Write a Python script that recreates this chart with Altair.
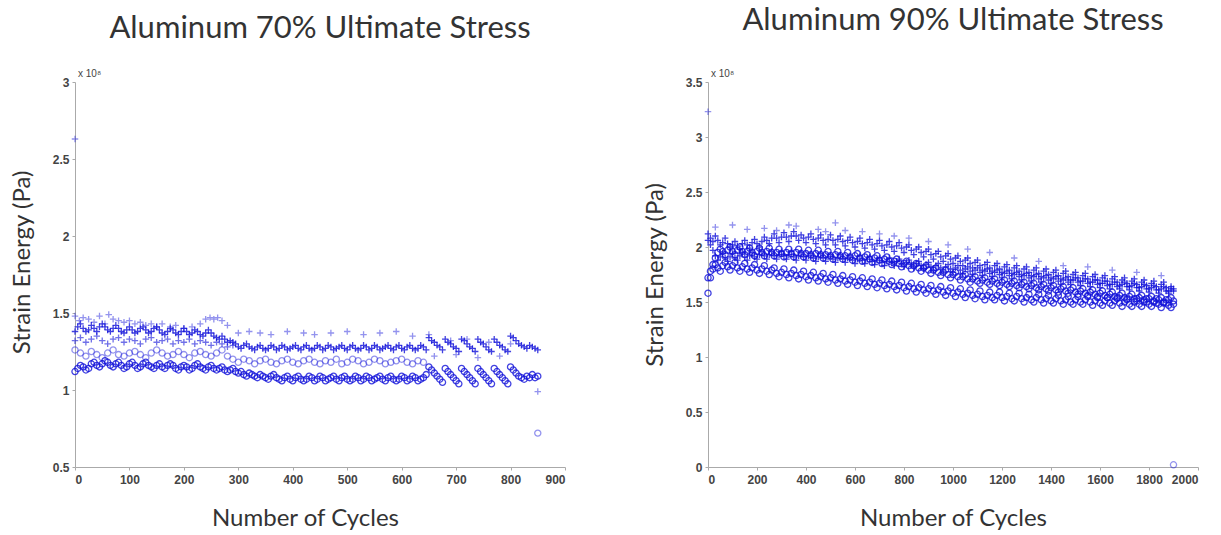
import altair as alt
import pandas as pd

# ---------------- Left chart: Aluminum 70% ----------------
L_plus_dense_x = list(range(0, 855, 5))
L_plus_dense_y = [
    1.38, 1.41, 1.43, 1.40, 1.38, 1.39, 1.42, 1.40, 1.38, 1.41,
    1.43, 1.41, 1.39, 1.38, 1.40, 1.42, 1.40, 1.38, 1.37, 1.39,
    1.41, 1.39, 1.37, 1.38, 1.40, 1.41, 1.39, 1.37, 1.38, 1.40,
    1.41, 1.39, 1.37, 1.36, 1.38, 1.40, 1.39, 1.37, 1.36, 1.38,
    1.40, 1.38, 1.36, 1.37, 1.39, 1.38, 1.36, 1.35, 1.37, 1.39,
    1.37, 1.35, 1.34, 1.33, 1.35, 1.33, 1.31, 1.32, 1.31, 1.30,
    1.28, 1.27, 1.29, 1.30, 1.28, 1.27, 1.26, 1.28, 1.29, 1.27,
    1.26, 1.27, 1.29, 1.28, 1.26, 1.27, 1.29, 1.28, 1.26, 1.27,
    1.28, 1.29, 1.27, 1.26, 1.28, 1.29, 1.27, 1.26, 1.27, 1.29,
    1.28, 1.26, 1.27, 1.29, 1.28, 1.26, 1.27, 1.28, 1.29, 1.27,
    1.26, 1.28, 1.29, 1.27, 1.26, 1.27, 1.29, 1.28, 1.26, 1.27,
    1.29, 1.28, 1.26, 1.27, 1.28, 1.29, 1.27, 1.26, 1.28, 1.29,
    1.27, 1.26, 1.28, 1.29, 1.27, 1.26, 1.27, 1.29, 1.28, 1.26,
    1.34, 1.32, 1.31, 1.29, 1.28, 1.26, 1.33, 1.31, 1.30, 1.28,
    1.27, 1.25, 1.33, 1.32, 1.30, 1.28, 1.27, 1.25, 1.33, 1.31,
    1.30, 1.28, 1.26, 1.25, 1.33, 1.31, 1.29, 1.28, 1.26, 1.25,
    1.35, 1.34, 1.32, 1.30, 1.29, 1.28, 1.27, 1.29, 1.28, 1.27,
    1.26,
]
L_plus_mid_x = list(range(0, 300, 10))
L_plus_mid_y = [1.32, 1.34, 1.31, 1.33, 1.35, 1.32, 1.30, 1.33, 1.34, 1.31,
                1.33, 1.32, 1.30, 1.33, 1.34, 1.31, 1.32, 1.33, 1.30, 1.32,
                1.31, 1.33, 1.30, 1.32, 1.31, 1.29, 1.31, 1.30, 1.28, 1.29]
L_plus_sparse_x = [0, 0, 8, 15, 25, 35, 45, 55, 62, 70, 80, 90, 100, 110, 120, 130, 140, 150, 160,
                   175, 185, 200, 215, 230, 240, 248, 255, 262, 270, 280, 300, 320, 340, 360,
                   390, 420, 440, 470, 500, 530, 560, 590, 620, 650, 690, 720, 760, 800,
                   660, 700, 740, 780, 850]
L_plus_sparse_y = [2.63, 1.48, 1.45, 1.47, 1.46, 1.44, 1.48, 1.43, 1.49, 1.46, 1.45, 1.44, 1.45, 1.43,
                   1.44, 1.42, 1.43, 1.41, 1.43, 1.41, 1.42, 1.40, 1.41, 1.43, 1.46, 1.47, 1.46,
                   1.47, 1.45, 1.42, 1.37, 1.38, 1.37, 1.36, 1.38, 1.37, 1.36, 1.37, 1.38, 1.36,
                   1.37, 1.38, 1.35, 1.36, 1.32, 1.33, 1.31, 1.30,
                   1.22, 1.23, 1.21, 1.22, 0.99]
L_o_upper_x = list(range(0, 650, 10))
L_o_upper_y = [
    1.26, 1.24, 1.22, 1.25, 1.23, 1.21, 1.24, 1.26, 1.23, 1.22,
    1.24, 1.25, 1.23, 1.21, 1.24, 1.26, 1.24, 1.22, 1.23, 1.25,
    1.23, 1.21, 1.24, 1.25, 1.23, 1.22, 1.24, 1.26, 1.22, 1.20,
    1.18, 1.20, 1.19, 1.17, 1.19, 1.20, 1.18, 1.17, 1.19, 1.20,
    1.18, 1.17, 1.19, 1.20, 1.18, 1.17, 1.19, 1.18, 1.20, 1.17,
    1.18, 1.20, 1.19, 1.17, 1.18, 1.20, 1.19, 1.17, 1.18, 1.19,
    1.20, 1.18, 1.17, 1.19, 1.18,
]
L_o_dense_x = list(range(0, 855, 5))
L_o_dense_y = [
    1.12, 1.14, 1.16, 1.15, 1.13, 1.14, 1.17, 1.18, 1.16, 1.15,
    1.17, 1.19, 1.18, 1.16, 1.15, 1.17, 1.18, 1.16, 1.14, 1.15,
    1.17, 1.18, 1.16, 1.14, 1.15, 1.17, 1.18, 1.16, 1.15, 1.14,
    1.16, 1.17, 1.15, 1.14, 1.16, 1.17, 1.16, 1.14, 1.13, 1.15,
    1.16, 1.15, 1.13, 1.14, 1.16, 1.17, 1.15, 1.14, 1.13, 1.15,
    1.16, 1.14, 1.13, 1.14, 1.15, 1.13, 1.12, 1.13, 1.14, 1.12,
    1.11, 1.12, 1.10, 1.09, 1.11, 1.10, 1.09, 1.08, 1.10, 1.09,
    1.08, 1.07, 1.09, 1.10, 1.08, 1.07, 1.06, 1.08, 1.09, 1.07,
    1.06, 1.08, 1.09, 1.07, 1.06, 1.07, 1.09, 1.08, 1.06, 1.07,
    1.09, 1.08, 1.06, 1.07, 1.08, 1.09, 1.07, 1.06, 1.08, 1.09,
    1.07, 1.06, 1.07, 1.09, 1.08, 1.06, 1.07, 1.09, 1.08, 1.06,
    1.07, 1.08, 1.09, 1.07, 1.06, 1.08, 1.09, 1.07, 1.06, 1.07,
    1.09, 1.08, 1.06, 1.07, 1.09, 1.08, 1.06, 1.07, 1.08, 1.10,
    1.15, 1.13, 1.11, 1.09, 1.07, 1.05, 1.14, 1.12, 1.10, 1.08,
    1.06, 1.04, 1.14, 1.12, 1.10, 1.08, 1.06, 1.04, 1.14, 1.12,
    1.10, 1.08, 1.06, 1.04, 1.14, 1.12, 1.10, 1.08, 1.06, 1.04,
    1.15, 1.13, 1.11, 1.09, 1.08, 1.07, 1.09, 1.08, 1.10, 1.08,
    1.09,
]
L_o_extra_x = [850]
L_o_extra_y = [0.72]

# ---------------- Right chart: Aluminum 90% ----------------
R_plus_upper_x = list(range(0, 1910, 10))
R_plus_upper_y = [
    2.12, 2.08, 2.05, 2.10, 2.06, 2.02, 2.04, 2.08, 2.03, 2.00,
    2.02, 2.05, 2.01, 1.98, 2.03, 2.06, 2.02, 1.99, 2.04, 2.07,
    2.03, 2.00, 2.05, 2.09, 2.06, 2.03, 2.08, 2.12, 2.08, 2.04,
    2.09, 2.13, 2.09, 2.05, 2.10, 2.14, 2.10, 2.06, 2.11, 2.08,
    2.04, 2.09, 2.12, 2.07, 2.03, 2.08, 2.11, 2.06, 2.02, 2.07,
    2.11, 2.06, 2.02, 2.07, 2.10, 2.05, 2.01, 2.06, 2.09, 2.04,
    2.00, 2.05, 2.08, 2.03, 1.99, 2.04, 2.07, 2.02, 1.98, 2.03,
    2.06, 2.01, 1.97, 2.02, 2.05, 2.00, 1.96, 2.01, 2.04, 1.99,
    1.95, 2.00, 2.02, 1.97, 1.93, 1.98, 2.00, 1.95, 1.91, 1.96,
    1.98, 1.93, 1.89, 1.94, 1.96, 1.91, 1.87, 1.92, 1.94, 1.89,
    1.85, 1.90, 1.92, 1.87, 1.83, 1.88, 1.90, 1.85, 1.81, 1.86,
    1.88, 1.83, 1.79, 1.84, 1.86, 1.81, 1.78, 1.83, 1.85, 1.80,
    1.77, 1.82, 1.84, 1.79, 1.76, 1.81, 1.83, 1.78, 1.75, 1.80,
    1.82, 1.77, 1.74, 1.79, 1.81, 1.76, 1.73, 1.78, 1.80, 1.75,
    1.72, 1.77, 1.79, 1.74, 1.71, 1.76, 1.78, 1.73, 1.70, 1.75,
    1.77, 1.72, 1.69, 1.74, 1.76, 1.71, 1.68, 1.73, 1.75, 1.70,
    1.67, 1.72, 1.74, 1.69, 1.66, 1.71, 1.73, 1.68, 1.65, 1.70,
    1.72, 1.67, 1.64, 1.69, 1.71, 1.66, 1.63, 1.68, 1.70, 1.65,
    1.62, 1.67, 1.69, 1.64, 1.61, 1.66, 1.68, 1.63, 1.60, 1.64,
    1.62,
]
R_o_lower_x = list(range(0, 1910, 10))
R_o_lower_y = [
    1.58, 1.72, 1.80, 1.84, 1.81, 1.78, 1.83, 1.86, 1.82, 1.79,
    1.83, 1.86, 1.81, 1.78, 1.82, 1.85, 1.80, 1.77, 1.81, 1.84,
    1.79, 1.76, 1.80, 1.83, 1.78, 1.75, 1.79, 1.81, 1.76, 1.73,
    1.77, 1.80, 1.75, 1.72, 1.76, 1.79, 1.74, 1.71, 1.75, 1.78,
    1.73, 1.70, 1.74, 1.77, 1.72, 1.69, 1.73, 1.76, 1.71, 1.68,
    1.72, 1.75, 1.70, 1.67, 1.71, 1.74, 1.69, 1.66, 1.70, 1.73,
    1.68, 1.65, 1.69, 1.72, 1.67, 1.64, 1.68, 1.71, 1.66, 1.63,
    1.67, 1.70, 1.65, 1.62, 1.66, 1.69, 1.64, 1.61, 1.65, 1.68,
    1.63, 1.60, 1.64, 1.67, 1.62, 1.59, 1.63, 1.66, 1.61, 1.58,
    1.62, 1.65, 1.60, 1.57, 1.61, 1.64, 1.59, 1.56, 1.60, 1.63,
    1.58, 1.55, 1.59, 1.62, 1.57, 1.54, 1.58, 1.61, 1.56, 1.53,
    1.57, 1.60, 1.55, 1.52, 1.56, 1.59, 1.54, 1.52, 1.56, 1.59,
    1.54, 1.51, 1.55, 1.58, 1.53, 1.51, 1.55, 1.58, 1.53, 1.50,
    1.54, 1.57, 1.52, 1.50, 1.54, 1.57, 1.52, 1.49, 1.53, 1.56,
    1.51, 1.49, 1.53, 1.56, 1.51, 1.48, 1.52, 1.55, 1.50, 1.48,
    1.52, 1.55, 1.50, 1.48, 1.52, 1.55, 1.50, 1.47, 1.51, 1.54,
    1.49, 1.47, 1.51, 1.54, 1.49, 1.47, 1.51, 1.54, 1.49, 1.46,
    1.50, 1.53, 1.48, 1.46, 1.50, 1.53, 1.48, 1.46, 1.50, 1.53,
    1.48, 1.46, 1.50, 1.53, 1.48, 1.45, 1.49, 1.52, 1.47, 1.45,
    1.48,
]
R_plus_mid_x = list(range(0, 1910, 10))
R_plus_mid_y = [
    2.06, 2.02, 1.97, 1.92, 1.88, 1.91, 1.94, 1.90, 1.87, 1.91,
    1.94, 1.90, 1.88, 1.92, 1.95, 1.91, 1.88, 1.92, 1.95, 1.91,
    1.89, 1.93, 1.96, 1.92, 1.89, 1.93, 1.96, 1.92, 1.89, 1.93,
    1.96, 1.92, 1.89, 1.93, 1.96, 1.91, 1.88, 1.92, 1.95, 1.91,
    1.88, 1.92, 1.94, 1.90, 1.87, 1.91, 1.94, 1.90, 1.87, 1.91,
    1.93, 1.89, 1.86, 1.90, 1.93, 1.89, 1.86, 1.90, 1.92, 1.88,
    1.85, 1.89, 1.92, 1.88, 1.85, 1.89, 1.91, 1.87, 1.84, 1.88,
    1.90, 1.86, 1.83, 1.87, 1.90, 1.86, 1.83, 1.87, 1.89, 1.85,
    1.82, 1.86, 1.88, 1.84, 1.81, 1.85, 1.87, 1.83, 1.80, 1.84,
    1.86, 1.82, 1.79, 1.83, 1.85, 1.81, 1.78, 1.82, 1.84, 1.80,
    1.77, 1.81, 1.83, 1.79, 1.76, 1.80, 1.82, 1.78, 1.75, 1.79,
    1.81, 1.77, 1.74, 1.78, 1.80, 1.76, 1.73, 1.77, 1.79, 1.75,
    1.72, 1.76, 1.78, 1.74, 1.71, 1.75, 1.77, 1.73, 1.70, 1.74,
    1.76, 1.72, 1.69, 1.73, 1.75, 1.71, 1.68, 1.72, 1.74, 1.70,
    1.67, 1.71, 1.73, 1.69, 1.66, 1.70, 1.72, 1.68, 1.66, 1.70,
    1.72, 1.68, 1.65, 1.69, 1.71, 1.67, 1.64, 1.68, 1.70, 1.66,
    1.63, 1.67, 1.69, 1.65, 1.62, 1.66, 1.68, 1.64, 1.62, 1.66,
    1.68, 1.64, 1.61, 1.65, 1.67, 1.63, 1.60, 1.64, 1.66, 1.62,
    1.59, 1.63, 1.65, 1.61, 1.58, 1.62, 1.64, 1.60, 1.58, 1.62,
    1.60,
]
R_o_mid_x = list(range(0, 1910, 10))
R_o_mid_y = [
    1.72, 1.78, 1.84, 1.90, 1.95, 1.98, 1.96, 1.93, 1.97, 2.00,
    1.96, 1.93, 1.97, 2.00, 1.96, 1.93, 1.96, 1.99, 1.95, 1.92,
    1.96, 1.99, 1.95, 1.92, 1.96, 1.99, 1.95, 1.92, 1.95, 1.98,
    1.94, 1.91, 1.95, 1.98, 1.94, 1.91, 1.95, 1.98, 1.94, 1.91,
    1.94, 1.97, 1.93, 1.90, 1.94, 1.97, 1.93, 1.90, 1.93, 1.96,
    1.92, 1.89, 1.93, 1.96, 1.92, 1.89, 1.92, 1.95, 1.91, 1.88,
    1.92, 1.94, 1.90, 1.87, 1.91, 1.93, 1.89, 1.86, 1.90, 1.92,
    1.88, 1.85, 1.89, 1.91, 1.87, 1.84, 1.87, 1.89, 1.85, 1.82,
    1.85, 1.87, 1.83, 1.80, 1.83, 1.85, 1.81, 1.78, 1.81, 1.83,
    1.79, 1.76, 1.79, 1.81, 1.77, 1.74, 1.77, 1.79, 1.75, 1.72,
    1.75, 1.77, 1.73, 1.70, 1.73, 1.75, 1.71, 1.68, 1.71, 1.73,
    1.69, 1.67, 1.70, 1.72, 1.68, 1.66, 1.69, 1.71, 1.67, 1.65,
    1.68, 1.70, 1.66, 1.64, 1.67, 1.69, 1.65, 1.63, 1.66, 1.68,
    1.64, 1.62, 1.65, 1.67, 1.63, 1.61, 1.64, 1.66, 1.62, 1.60,
    1.63, 1.65, 1.61, 1.59, 1.62, 1.64, 1.60, 1.58, 1.61, 1.63,
    1.59, 1.57, 1.60, 1.62, 1.58, 1.56, 1.59, 1.61, 1.57, 1.55,
    1.58, 1.60, 1.56, 1.54, 1.57, 1.59, 1.55, 1.53, 1.56, 1.58,
    1.54, 1.52, 1.55, 1.57, 1.53, 1.51, 1.54, 1.56, 1.52, 1.50,
    1.53, 1.55, 1.51, 1.49, 1.52, 1.54, 1.50, 1.49, 1.52, 1.54,
    1.51,
]
R_plus_sparse_x = [0, 30, 100, 160, 230, 280, 330, 360, 450, 480, 520, 560, 630, 700, 760, 820,
                   900, 980, 1060, 1150, 1250, 1350, 1450, 1550, 1650, 1750, 1850]
R_plus_sparse_y = [3.23, 2.18, 2.20, 2.16, 2.17, 2.15, 2.20, 2.19, 2.16, 2.14, 2.22, 2.15, 2.14,
                   2.12, 2.10, 2.08, 2.05, 2.02, 1.98, 1.95, 1.90, 1.87, 1.83, 1.82, 1.79, 1.77, 1.74]
R_o_extra_x = [1900]
R_o_extra_y = [0.02]

LEFT_X_TICKS = [0, 100, 200, 300, 400, 500, 600, 700, 800, 900]
LEFT_Y_TICKS = [0.5, 1, 1.5, 2, 2.5, 3]
RIGHT_X_TICKS = [0, 200, 400, 600, 800, 1000, 1200, 1400, 1600, 1800, 2000]
RIGHT_Y_TICKS = [0, 0.5, 1, 1.5, 2, 2.5, 3, 3.5]

PLUS = "M-1,0L1,0M0,-1L0,1"
LIGHT = 0.45
DARK = 0.8


def frame(groups):
    rows = []
    for xs, ys, m, w in groups:
        for a, b in zip(xs, ys):
            rows.append({"x": a, "y": b, "m": m, "w": w})
    return pd.DataFrame(rows)


left_df = frame([
    (L_plus_sparse_x, L_plus_sparse_y, "plus", LIGHT),
    (L_plus_mid_x, L_plus_mid_y, "plus", 0.6),
    (L_o_upper_x, L_o_upper_y, "o", LIGHT),
    (L_o_dense_x, L_o_dense_y, "o", DARK),
    (L_o_extra_x, L_o_extra_y, "o", LIGHT),
    (L_plus_dense_x, L_plus_dense_y, "plus", DARK),
])
right_df = frame([
    (R_plus_sparse_x, R_plus_sparse_y, "plus", LIGHT),
    (R_o_lower_x, R_o_lower_y, "o", DARK),
    (R_o_mid_x, R_o_mid_y, "o", DARK),
    (R_o_extra_x, R_o_extra_y, "o", LIGHT),
    (R_plus_mid_x, R_plus_mid_y, "plus", DARK),
    (R_plus_upper_x, R_plus_upper_y, "plus", DARK),
])


def panel(df, xdom, xticks, ydom, yticks, title, toffset, xtitle_x=None, ytitle_y=None):
    xaxis_kw = dict(values=xticks, title="Number of Cycles", format="d")
    yaxis_kw = dict(values=yticks, title="Strain Energy (Pa)", format="~g")
    if xtitle_x is not None:
        xaxis_kw["titleX"] = xtitle_x
    if ytitle_y is not None:
        yaxis_kw["titleY"] = ytitle_y
    pts = alt.Chart(df).mark_point(filled=False, strokeWidth=1.3, color="#1212da").encode(
        x=alt.X("x:Q", scale=alt.Scale(domain=xdom, nice=False, zero=False), axis=alt.Axis(**xaxis_kw)),
        y=alt.Y("y:Q", scale=alt.Scale(domain=ydom, nice=False, zero=False), axis=alt.Axis(**yaxis_kw)),
        shape=alt.Shape("m:N", scale=alt.Scale(domain=["plus", "o"], range=[PLUS, "circle"]), legend=None),
        size=alt.Size("m:N", scale=alt.Scale(domain=["plus", "o"], range=[42, 38]), legend=None),
        opacity=alt.Opacity("w:Q", scale=None, legend=None),
    )
    exp = alt.Chart(pd.DataFrame({"t": ["x 10\u2078"]})).mark_text(
        align="left", baseline="bottom", fontSize=10, font="Liberation Sans", color="#444"
    ).encode(x=alt.value(3), y=alt.value(-3), text="t:N")
    return alt.layer(pts, exp).properties(
        width=490, height=385,
        title=alt.TitleParams(title, fontSize=31, font="Lato", fontWeight="normal",
                              color="#333", offset=toffset, anchor="middle"),
    )


left = panel(left_df, [0, 900], LEFT_X_TICKS, [0.5, 3], LEFT_Y_TICKS,
             "Aluminum 70% Ultimate Stress", 24, xtitle_x=230, ytitle_y=180)
right = panel(right_df, [0, 2000], RIGHT_X_TICKS, [0, 3.5], RIGHT_Y_TICKS,
              "Aluminum 90% Ultimate Stress", 32)

chart = alt.hconcat(left, right, spacing=77).properties(
    padding={"left": 10, "top": 5, "right": 0, "bottom": 0}
).configure_view(stroke=None).configure_axis(
    grid=False, domainColor="#aaa", tickColor="#aaa", tickSize=3,
    labelFont="Liberation Sans", labelFontSize=12, labelFontWeight="bold", labelColor="#444",
    titleFont="Lato", titleFontSize=24, titleFontWeight="normal", titleColor="#333",
).configure_axisX(titlePadding=21, labelPadding=4).configure_axisY(titlePadding=18, labelPadding=3)

chart.save("out.html", embed_options={"renderer": "svg", "actions": False})
